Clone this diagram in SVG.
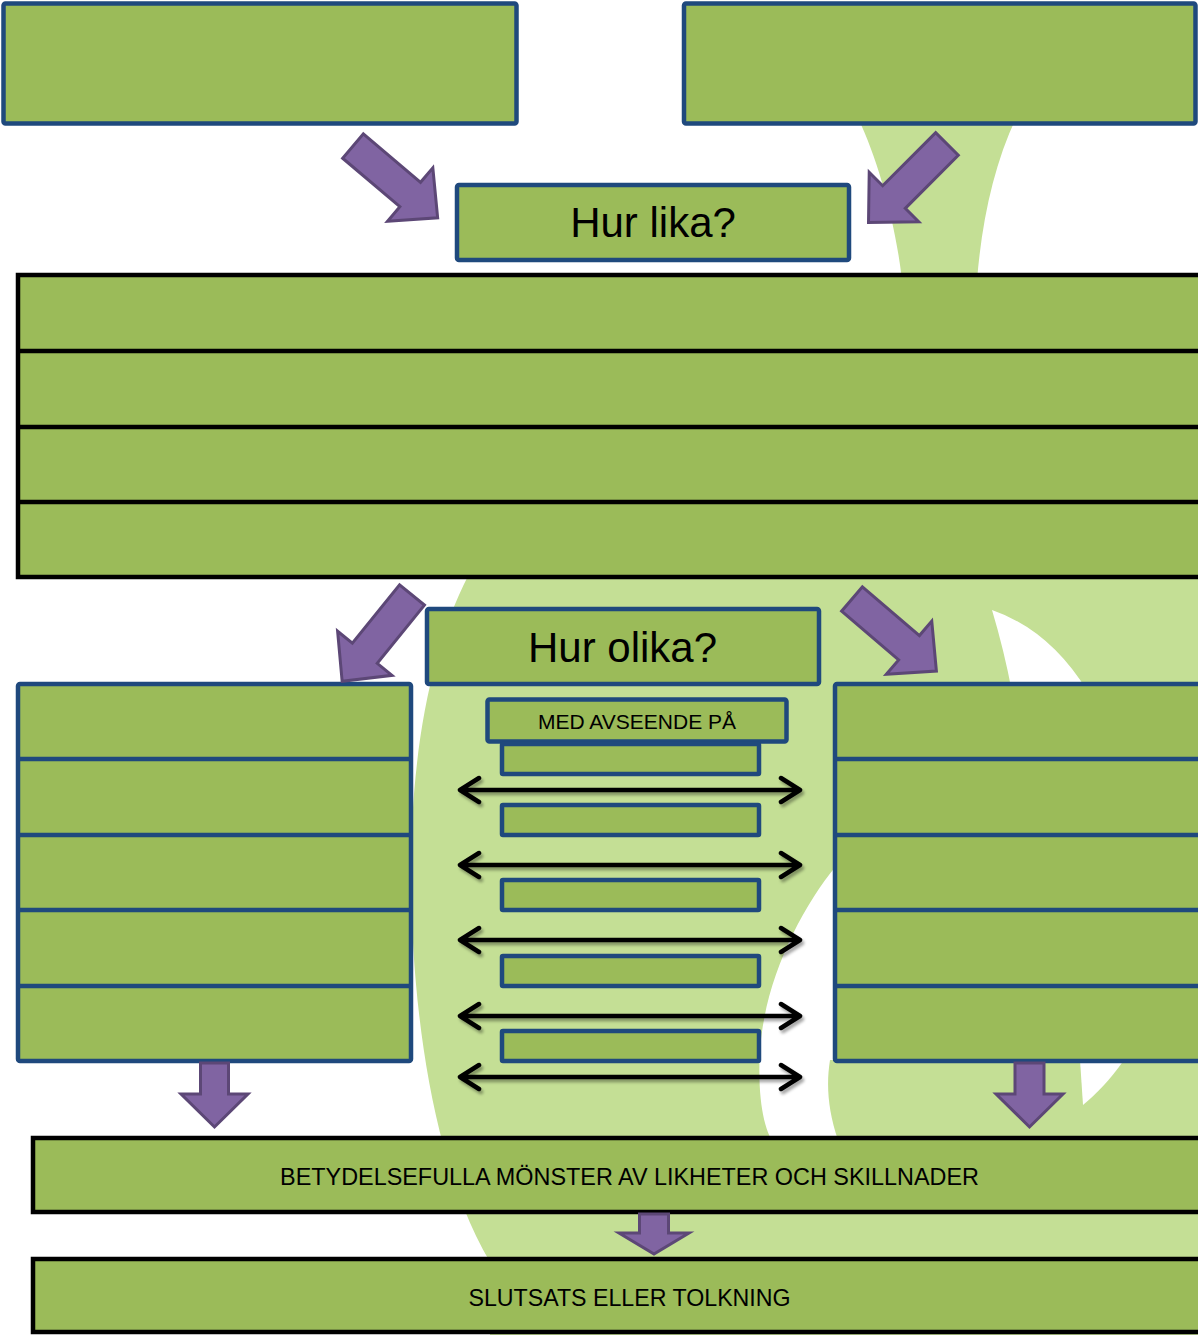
<svg xmlns="http://www.w3.org/2000/svg" width="1198" height="1335" viewBox="0 0 1198 1335">
<defs>
<style>
.box{fill:#9BBB59;stroke:#1F497D;stroke-width:4.5}
.bbox{fill:#9BBB59;stroke:#000;stroke-width:4.5}
.div{stroke:#1F497D;stroke-width:4.5}
.bdiv{stroke:#000;stroke-width:4.5}
.bg{fill:#C4DF95}
.wh{fill:#fff}
.pa{fill:#8064A2;stroke:#5C4776;stroke-width:3;stroke-linejoin:miter}
.dbl{fill:none;stroke:#000;stroke-width:4.5;stroke-linecap:round;stroke-linejoin:round}
.t{font-family:"Liberation Sans",Arial,sans-serif;fill:#000;text-anchor:middle}
</style>
<path id="diag" d="M0,-16 L75,-16 L75,-35 L111,0 L75,35 L75,16 L0,16 Z"/>
<filter id="sh" x="-10%" y="-50%" width="120%" height="200%">
<feDropShadow dx="2" dy="3" stdDeviation="1.5" flood-color="#000" flood-opacity="0.35"/>
</filter>
</defs>
<rect width="1198" height="1335" fill="#fff"/>
<g id="background">
<path class="bg" d="M858,118 C878,160 895,220 902,280 L977,280 C982,220 994,165 1016,118 Z"/>
<path class="bg" d="M468,576 C430,650 410,760 411,880 C412,1000 430,1160 490,1262 L490,1335 L1198,1335 L1198,576 Z"/>
<path class="wh" d="M992,610 Q1050,630 1088,692 L1012,692 Q1004,650 992,610 Z"/>
<path class="wh" d="M836,866 C800,910 765,980 760,1050 C757,1100 765,1130 772,1140 L838,1140 C828,1110 826,1085 830,1060 L836,1060 Z"/>
<path class="wh" d="M1080,1060 L1124,1060 C1110,1080 1096,1094 1083,1105 C1082,1090 1081,1075 1080,1060 Z"/>
</g>
<g id="node-top-left"><rect class="box" x="3.5" y="3.5" width="513" height="120" rx="2"/></g>
<g id="node-top-right"><rect class="box" x="684" y="3.5" width="511.5" height="120" rx="2"/></g>
<g id="node-hur-lika"><rect class="box" x="457" y="185" width="392" height="75" rx="2"/><text class="t" x="653" y="237" font-size="42">Hur lika?</text></g>
<g id="node-likheter">
<rect class="bbox" x="18" y="275" width="1200" height="302"/>
<line class="bdiv" x1="18" y1="351" x2="1198" y2="351"/>
<line class="bdiv" x1="18" y1="427" x2="1198" y2="427"/>
<line class="bdiv" x1="18" y1="502" x2="1198" y2="502"/>
</g>
<g id="node-hur-olika"><rect class="box" x="427" y="609" width="392" height="75" rx="2"/><text class="t" x="622.5" y="662" font-size="42">Hur olika?</text></g>
<g id="node-left-list">
<rect class="box" x="18" y="684" width="393" height="377" rx="2"/>
<line class="div" x1="18" y1="759" x2="411" y2="759"/>
<line class="div" x1="18" y1="835" x2="411" y2="835"/>
<line class="div" x1="18" y1="910" x2="411" y2="910"/>
<line class="div" x1="18" y1="986" x2="411" y2="986"/>
</g>
<g id="node-right-list">
<rect class="box" x="835" y="684" width="400" height="377" rx="2"/>
<line class="div" x1="835" y1="759" x2="1198" y2="759"/>
<line class="div" x1="835" y1="835" x2="1198" y2="835"/>
<line class="div" x1="835" y1="910" x2="1198" y2="910"/>
<line class="div" x1="835" y1="986" x2="1198" y2="986"/>
</g>
<g id="node-med-avseende"><rect class="box" x="487.5" y="699.5" width="299" height="42" rx="2"/><text class="t" x="637" y="729" font-size="21">MED AVSEENDE PÅ</text></g>
<g id="node-aspect-1"><rect class="box" x="502" y="744" width="257" height="30" rx="1"/></g>
<g id="node-aspect-2"><rect class="box" x="502" y="805" width="257" height="30" rx="1"/></g>
<g id="node-aspect-3"><rect class="box" x="502" y="880" width="257" height="30" rx="1"/></g>
<g id="node-aspect-4"><rect class="box" x="502" y="956" width="257" height="30" rx="1"/></g>
<g id="node-aspect-5"><rect class="box" x="502" y="1031" width="257" height="30" rx="1"/></g>
<g id="node-monster"><rect class="bbox" x="33" y="1138" width="1200" height="74"/><text class="t" x="629.5" y="1185" font-size="23.4">BETYDELSEFULLA MÖNSTER AV LIKHETER OCH SKILLNADER</text></g>
<g id="node-slutsats"><rect class="bbox" x="33" y="1259" width="1200" height="73"/><text class="t" x="629.5" y="1306" font-size="23.2">SLUTSATS ELLER TOLKNING</text></g>
<g id="connectors">
<use href="#diag" class="pa" transform="translate(353,146) rotate(40.3)"/>
<use href="#diag" class="pa" transform="translate(947,144) rotate(135)"/>
<use href="#diag" class="pa" transform="translate(412,595) rotate(129)"/>
<use href="#diag" class="pa" transform="translate(852,599) rotate(40.5)"/>
<path class="pa" d="M200.5,1063 L228.5,1063 L228.5,1094 L248,1094 L214.5,1127 L181,1094 L200.5,1094 Z"/>
<path class="pa" d="M1015,1063 L1044,1063 L1044,1094 L1063,1094 L1029.5,1127 L996,1094 L1015,1094 Z"/>
<path class="pa" d="M639.5,1214 L668.5,1214 L668.5,1233 L689,1233 L654,1254 L619,1233 L639.5,1233 Z"/>
<g filter="url(#sh)">
<path class="dbl" d="M460,790 L800,790 M479,778 L460,790 L479,802 M781,778 L800,790 L781,802"/>
<path class="dbl" d="M460,865 L800,865 M479,853 L460,865 L479,877 M781,853 L800,865 L781,877"/>
<path class="dbl" d="M460,940 L800,940 M479,928 L460,940 L479,952 M781,928 L800,940 L781,952"/>
<path class="dbl" d="M460,1016 L800,1016 M479,1004 L460,1016 L479,1028 M781,1004 L800,1016 L781,1028"/>
<path class="dbl" d="M460,1077 L800,1077 M479,1065 L460,1077 L479,1089 M781,1065 L800,1077 L781,1089"/>
</g>
</g>
</svg>
